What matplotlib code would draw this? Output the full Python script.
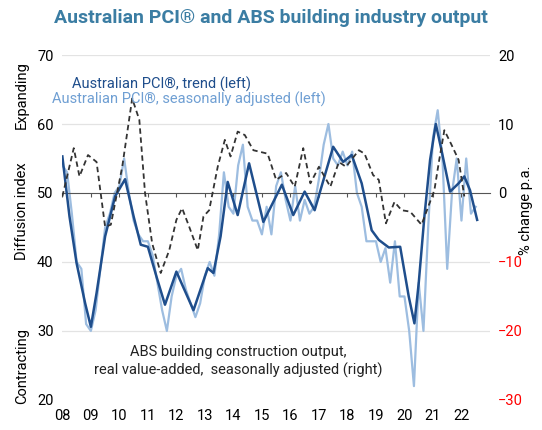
import matplotlib
matplotlib.use("Agg")
import matplotlib.pyplot as plt
import matplotlib.transforms as mtransforms

plt.rcParams['font.family'] = ['Roboto', 'DejaVu Sans']

# PCI trend (left axis)
trend_t = [2008.0, 2008.25, 2008.5, 2008.8, 2009.0, 2009.2, 2009.5, 2009.85, 2010.2, 2010.5,
           2010.75, 2011.0, 2011.3, 2011.6, 2012.0, 2012.6, 2013.1, 2013.3, 2013.55, 2013.8,
           2014.15, 2014.55, 2015.05, 2015.7, 2016.1, 2016.5, 2016.85, 2017.5, 2017.85, 2018.15,
           2018.5, 2018.85, 2019.1, 2019.45, 2019.85, 2020.15, 2020.35, 2020.5, 2020.7, 2020.9,
           2021.1, 2021.3, 2021.6, 2021.9, 2022.1, 2022.3, 2022.55]
trend_v = [55.3, 46.6, 39.8, 34.0, 30.6, 35.5, 43.7, 49.5, 52.0, 46.6,
           42.5, 42.2, 37.9, 33.8, 38.6, 33.0, 39.1, 38.4, 43.7, 51.6,
           46.8, 54.3, 45.8, 51.2, 46.8, 50.2, 47.5, 56.7, 54.5, 55.5,
           51.4, 44.6, 43.2, 42.1, 42.2, 35.0, 31.1, 36.9, 46.6, 54.8,
           60.0, 56.2, 50.2, 51.4, 52.4, 50.4, 46.1]

# PCI seasonally adjusted (left axis), every two months from Jan 2008
sa_v = [54, 53, 47, 40, 39, 31,
        30, 33, 39, 45, 47, 50,
        51, 55, 50, 46, 44, 43,
        43, 41, 37, 33, 30, 35,
        38, 39, 36, 34, 32, 34,
        38, 40, 38, 44, 53, 48,
        47, 54, 57, 48, 46, 46,
        44, 48, 44, 51, 53, 49,
        46, 51, 46, 49, 47, 48,
        52, 57, 60, 55, 54, 56,
        54, 56, 50, 48, 43, 43,
        43, 40, 42, 37, 43, 35,
        35, 30, 22, 37, 30, 45,
        58, 62, 55, 39, 50, 55,
        46, 55, 47, 48]
sa_t = [2008 + k / 6 for k in range(len(sa_v))]

# ABS building construction output, % change p.a. (right axis)
abs_t = [2008.0, 2008.4, 2008.6, 2008.9, 2009.2, 2009.5, 2009.7, 2010.1, 2010.45, 2010.7,
         2010.9, 2011.15, 2011.45, 2011.75, 2012.0, 2012.2, 2012.45, 2012.75, 2012.95, 2013.15,
         2013.45, 2013.7, 2013.9, 2014.15, 2014.4, 2014.7, 2015.2, 2015.5, 2015.85, 2016.15,
         2016.45, 2016.7, 2017.0, 2017.4, 2017.7, 2017.95, 2018.4, 2018.6, 2018.9, 2019.1,
         2019.35, 2019.65, 2019.9, 2020.2, 2020.6, 2021.05, 2021.2, 2021.4, 2021.65, 2021.9,
         2022.1]
abs_v = [-0.5, 6.5, 2.4, 5.5, 4.5, -4.9, -4.6, 3.8, 13.7, 10.6,
         0.0, -7.3, -11.6, -8.3, -3.9, -2.2, -4.9, -8.3, -3.4, -2.5,
         3.8, 7.7, 5.3, 8.9, 8.4, 6.2, 5.7, 1.9, 2.9, 0.9,
         6.5, 1.4, 3.8, 0.9, 4.5, 3.8, 6.2, 5.7, 2.6, 1.9,
         -4.4, -1.3, -2.5, -2.7, -4.6, 0.4, 4.3, 9.1, 7.0, 4.8,
         -0.5]

years = list(range(2008, 2023))
year_labels = [f"{y % 100:02d}" for y in years]

fig = plt.figure(figsize=(5.42, 4.30), dpi=100)
ax = fig.add_axes([0.114, 0.07, 0.79, 0.802])
ax2 = ax.twinx()

ax.plot(sa_t, sa_v, color='#9dbde0', lw=1.6, zorder=2, solid_joinstyle='round')
ax.plot(trend_t, trend_v, color='#1f4e8c', lw=1.8, zorder=3, solid_joinstyle='round')
ax2.plot(abs_t, abs_v, color='#333333', lw=1.3, ls=(0, (3, 2)), zorder=4)

ax.set_ylim(20, 70)
ax2.set_ylim(-30, 20)
ax.set_xlim(2007.98, 2023.0)
ax.set_yticks(range(20, 71, 10))
ax2.set_yticks(range(-30, 21, 10))
for y in range(30, 71, 10):
    if y != 50:
        ax.axhline(y, color='#e3e3e3', lw=0.9, zorder=0)

for a in (ax, ax2):
    for s in ('top', 'right', 'left', 'bottom'):
        a.spines[s].set_visible(False)
ax.spines['bottom'].set_visible(True)
ax.spines['bottom'].set_position(('data', 50))
ax.spines['bottom'].set_color('#555555')
ax.set_xticks(years)
ax.set_xticklabels([])
ax.tick_params(axis='x', length=3, color='#555555')
ax.tick_params(axis='y', length=0, labelsize=10.5, pad=6)
ax2.tick_params(axis='y', length=0, labelsize=10.5, pad=6)
for lab, v in zip(ax2.get_yticklabels(), range(-30, 21, 10)):
    lab.set_color('red' if v < 0 else 'black')

trans = mtransforms.blended_transform_factory(ax.transData, ax.transAxes)
for y, lab in zip(years, year_labels):
    ax.text(y, -0.025, lab, transform=trans, ha='center', va='top', fontsize=10.5)

fig.text(0.5, 0.958, "Australian PCI® and ABS building industry output", ha='center', va='center',
         fontsize=14, fontweight='bold', color='#3b7da3')
fig.text(0.04, 0.78, "Expanding", rotation=90, ha='center', va='center', fontsize=10.5)
fig.text(0.04, 0.51, "Diffusion index", rotation=90, ha='center', va='center', fontsize=10.5)
fig.text(0.04, 0.15, "Contracting", rotation=90, ha='center', va='center', fontsize=10.5)
fig.text(0.97, 0.51, "% change p.a.", rotation=90, ha='center', va='center', fontsize=10.5)

fig.text(0.133, 0.803, "Australian PCI®, trend (left)", color='#1f4e8c', fontsize=10.5, va='center')
fig.text(0.096, 0.768, "Australian PCI®, seasonally adjusted (left)", color='#6f9fd3', fontsize=10.5, va='center')
fig.text(0.44, 0.16, "ABS building construction output,\nreal value-added,  seasonally adjusted (right)",
         ha='center', va='center', fontsize=10.5, linespacing=1.3, color='#222222')

fig.savefig('out.png', dpi=100)
